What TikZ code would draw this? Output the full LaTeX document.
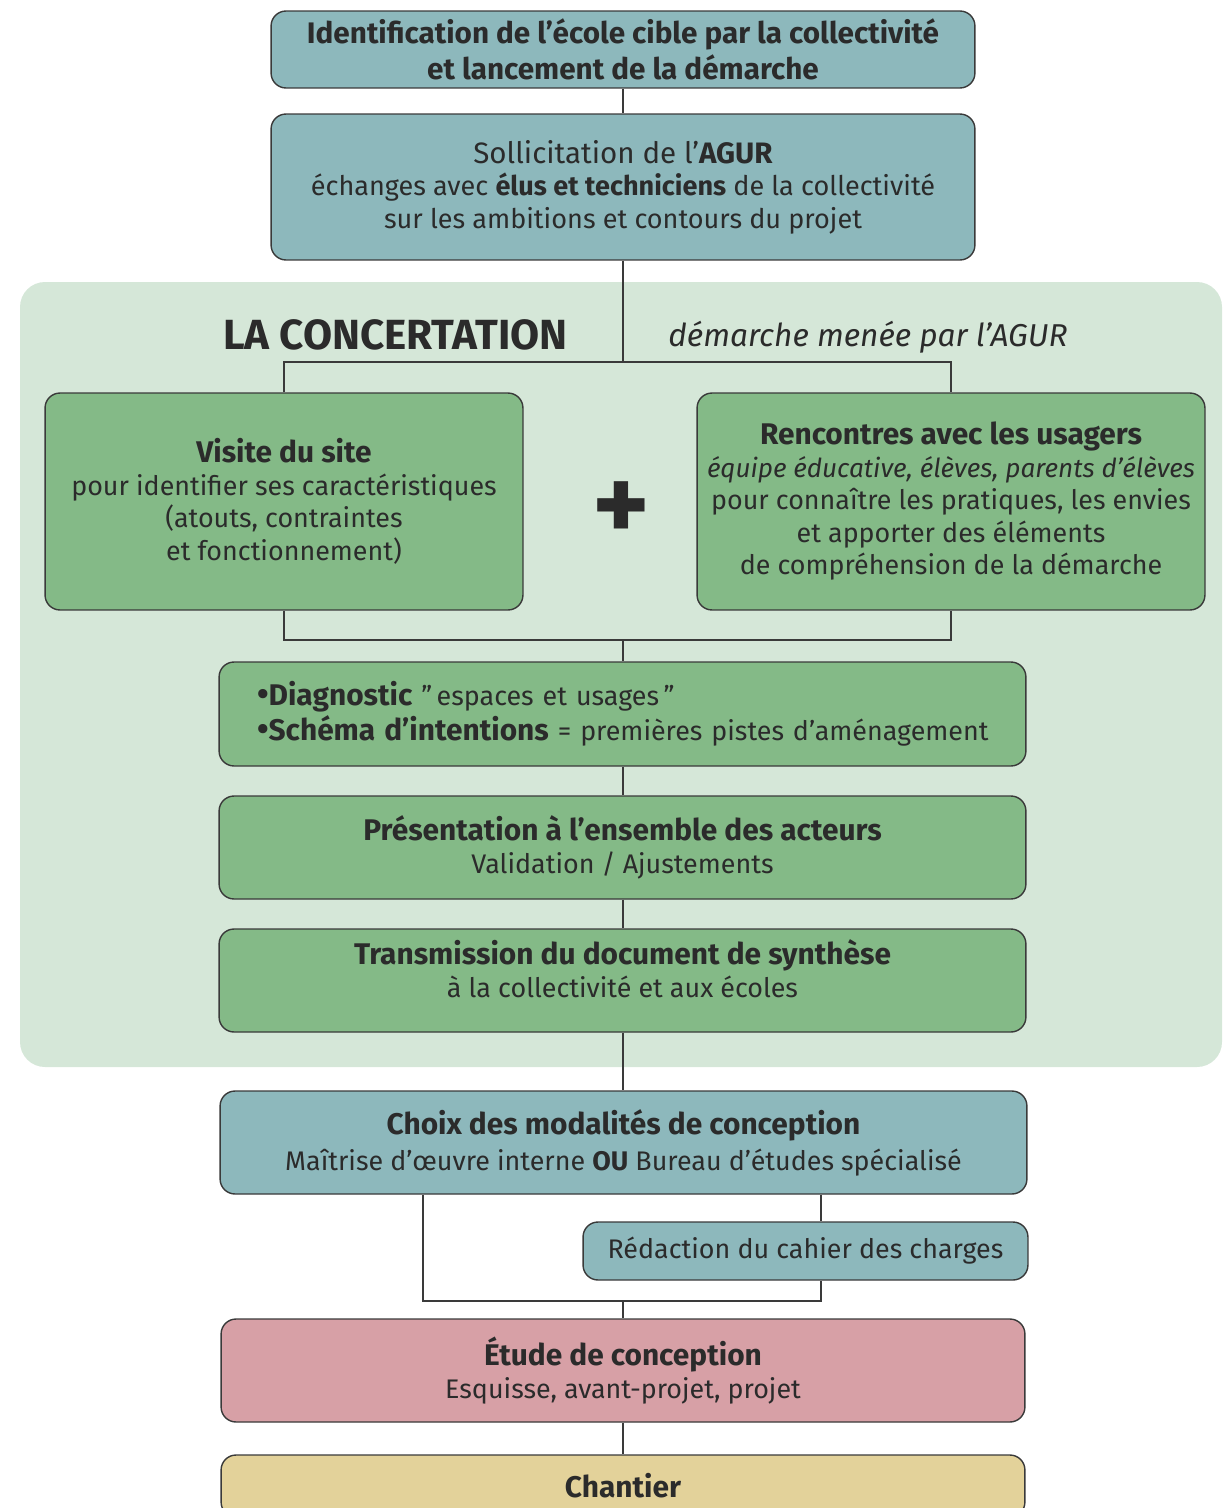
\documentclass[tikz,border=0pt]{standalone}
\usepackage{fontspec}
\setmainfont{Fira Sans}
\definecolor{agurteal}{HTML}{8DB8BC}
\definecolor{agurgreen}{HTML}{84BA87}
\definecolor{agurbg}{HTML}{D5E7D8}
\definecolor{agurpink}{HTML}{D7A0A6}
\definecolor{agursand}{HTML}{E3D29A}
\definecolor{edge}{HTML}{3A3A3A}
\definecolor{ink}{HTML}{2B2B2B}
\tikzset{link/.style={draw=edge,line width=0.6pt}}
\newcommand{\headline}[1]{{\bfseries\fontsize{17}{18}\selectfont #1}}
\newcommand{\agurbullet}{{\bfseries\fontsize{19}{18}\selectfont •}}

\begin{document}
\begin{tikzpicture}[x=0.02cm,y=-0.02cm,
        box/.style={draw=edge,line width=0.8pt,rounded corners=0.3cm,align=center,inner sep=0pt,text=ink,font=\fontsize{15.3}{18.5}\selectfont},
        tealbox/.style={box,fill=agurteal},
        greenbox/.style={box,fill=agurgreen}]
        \useasboundingbox (0,0) rectangle (1225,1508);
        \fill[agurbg,rounded corners=0.5cm] (20,282) rectangle (1222,1067);

        \node[tealbox,minimum width=14.08cm,minimum height=1.54cm,font=\bfseries\fontsize{16.9}{20.5}\selectfont] (cible) at (623,49.5)
            {Identification de l’école cible par la collectivité\\et lancement de la démarche};
        \node[tealbox,minimum width=14.08cm,minimum height=2.92cm,font=\fontsize{15.4}{18.5}\selectfont] (agur) at (623,187)
            {{\fontsize{16.8}{18}\selectfont Sollicitation de l’\textbf{AGUR}}\\échanges avec \textbf{élus et techniciens} de la collectivité\\sur les ambitions et contours du projet};

        \node[anchor=west,inner sep=0pt,text=ink,font=\bfseries\fontsize{24}{26}\selectfont] (concertation) at (223,335) {LA CONCERTATION};
        \node[anchor=west,inner sep=0pt,text=ink,font=\itshape\fontsize{18}{22}\selectfont] (menee) at (668,337) {démarche menée par l’AGUR};

        \node[greenbox,minimum width=9.56cm,minimum height=4.34cm] (visite) at (284,501.5)
            {\headline{Visite du site}\\pour identifier ses caractéristiques\\(atouts, contraintes\\et fonctionnement)};
        \node[greenbox,minimum width=10.16cm,minimum height=4.34cm] (usagers) at (951,501.5)
            {\headline{Rencontres avec les usagers}\\{\itshape\fontsize{14.9}{18}\selectfont équipe éducative, élèves, parents d’élèves}\\pour connaître les pratiques, les envies\\et apporter des éléments\\de compréhension de la démarche};
        \node[text=ink,inner sep=0pt,font=\bfseries\fontsize{62}{62}\selectfont] (plus) at (621,512) {+};

        \node[greenbox,minimum width=16.14cm,minimum height=2.08cm,text width=14.62cm,align=left,font=\fontsize{15.3}{20}\selectfont] (diag) at (622.5,714)
            {\mbox{\agurbullet\headline{Diagnostic} \symbol{34}\,espaces et usages\,\symbol{34}}\\\mbox{\agurbullet\headline{Schéma d’intentions} = premières pistes d’aménagement}};
        \node[greenbox,minimum width=16.14cm,minimum height=2.06cm] (presentation) at (622.5,847.5)
            {\headline{Présentation à l’ensemble des acteurs}\\Validation / Ajustements};
        \node[greenbox,minimum width=16.14cm,minimum height=2.06cm] (synthese) at (622.5,980.5) {};
        \node[align=center,inner sep=0pt,text=ink,font=\fontsize{15.3}{18.5}\selectfont] (synthesetxt) at (622.5,968.5)
            {\headline{Transmission du document de synthèse}\\à la collectivité et aux écoles};

        \node[tealbox,minimum width=16.14cm,minimum height=2.06cm,font=\fontsize{15.3}{20.5}\selectfont] (choix) at (623.5,1142.5)
            {\headline{Choix des modalités de conception}\\Maîtrise d’œuvre interne \textbf{OU} Bureau d’études spécialisé};
        \node[tealbox,minimum width=8.9cm,minimum height=1.16cm] (redaction) at (805.5,1251) {Rédaction du cahier des charges};
        \node[box,fill=agurpink,minimum width=16.08cm,minimum height=2.06cm] (etude) at (623,1370.5)
            {\headline{Étude de conception}\\Esquisse, avant-projet, projet};
        \node[box,fill=agursand,minimum width=16.08cm,minimum height=1.24cm] (chantier) at (623,1486)
            {\headline{Chantier}};

        \coordinate (split) at (623,362);
        \coordinate (join) at (623,640);
        \coordinate (mergeL) at (423,1301);
        \coordinate (mergeR) at (821,1301);
        \draw[link] (cible) -- (agur);
        \draw[link] (agur.south -| split) -- (split);
        \draw[link] (visite.north) |- (split) -| (usagers.north);
        \draw[link] (visite.south) |- (join) -| (usagers.south);
        \draw[link] (join) -- (diag.north -| join);
        \draw[link] (diag.south -| join) -- (presentation.north -| join);
        \draw[link] (presentation.south -| join) -- (synthese.north -| join);
        \draw[link] (synthese.south -| join) -- (choix.north -| join);
        \draw[link] (choix.south -| mergeL) -- (mergeL) -- (mergeR) -- (redaction.south -| mergeR);
        \draw[link] (choix.south -| mergeR) -- (redaction.north -| mergeR);
        \draw[link] (mergeL -| join) -- (etude.north -| join);
        \draw[link] (etude.south -| join) -- (chantier.north -| join);
\end{tikzpicture}
\end{document}
